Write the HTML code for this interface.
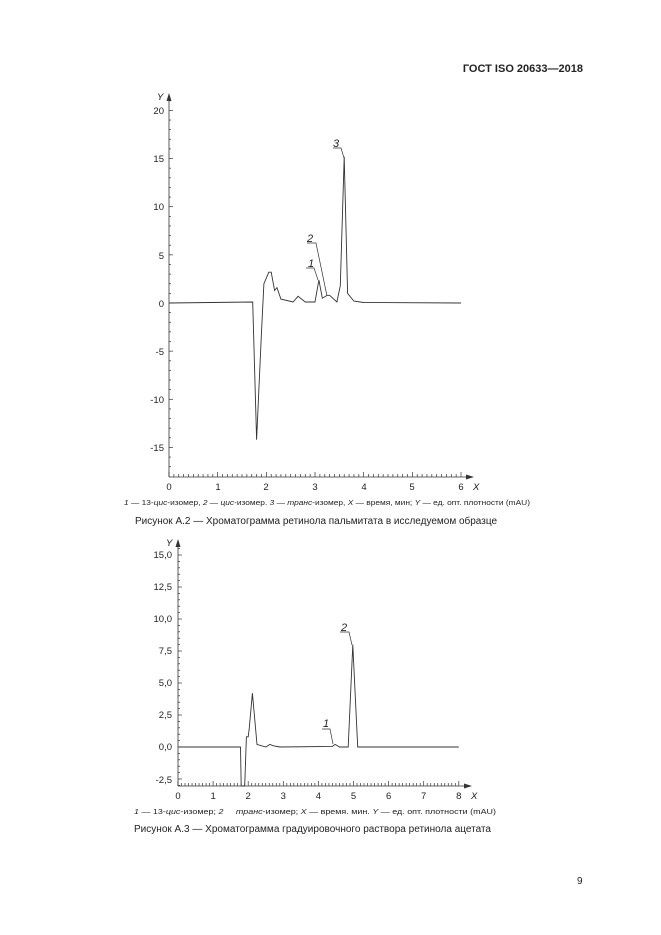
<!DOCTYPE html>
<html><head><meta charset="utf-8"><style>
body{margin:0;background:#fff;width:661px;height:935px;overflow:hidden}
svg{display:block}
text{font-family:"Liberation Sans",sans-serif;fill:#222}
</style></head><body>
<svg width="661" height="935" viewBox="0 0 661 935" xmlns="http://www.w3.org/2000/svg">
<text x="583" y="72" text-anchor="end" font-size="11" font-weight="bold" fill="#000">ГОСТ ISO 20633—2018</text>
<g stroke="#333" stroke-width="0.8" fill="none">
<line x1="169" y1="97" x2="169" y2="477"/>
<line x1="169" y1="477" x2="470" y2="477"/>
</g>
<polygon points="169,93 166.5,101 171.5,101" fill="#333"/>
<polygon points="474,477 466,474.5 466,479.5" fill="#333"/>
<g id="c1ticks" stroke="#333" stroke-width="0.7"></g>
<g font-size="9.5" text-anchor="end">
<text x="164" y="114">20</text><text x="164" y="162">15</text><text x="164" y="210">10</text>
<text x="164" y="259">5</text><text x="164" y="307">0</text><text x="164" y="355">-5</text>
<text x="164" y="403">-10</text><text x="164" y="451">-15</text>
</g>
<g font-size="9.5" text-anchor="middle">
<text x="169" y="490">0</text><text x="218" y="490">1</text><text x="266" y="490">2</text>
<text x="315" y="490">3</text><text x="364" y="490">4</text><text x="412" y="490">5</text><text x="461" y="490">6</text>
</g>
<text x="473" y="490" font-size="9.5" font-style="italic">X</text>
<text x="157" y="100" font-size="9.5" font-style="italic">Y</text>
<polyline id="p1" fill="none" stroke="#333" stroke-width="0.9"/>
<g stroke="#333" stroke-width="0.7" fill="none">
<polyline points="333,148 341,148 344,158"/>
<polyline points="307,243 316,243 327,296"/>
<polyline points="306,268 314,268 318,280"/>
</g>
<g font-size="11" font-style="italic">
<text x="333" y="147">3</text><text x="307" y="242">2</text><text x="308" y="267">1</text>
</g>
<text x="124" y="505" font-size="7.3" textLength="406" lengthAdjust="spacingAndGlyphs"><tspan font-style="italic">1</tspan> — 13-<tspan font-style="italic">цис</tspan>-изомер, <tspan font-style="italic">2</tspan> — <tspan font-style="italic">цис</tspan>-изомер. <tspan font-style="italic">3</tspan> — <tspan font-style="italic">транс</tspan>-изомер, <tspan font-style="italic">X</tspan> — время, мин; <tspan font-style="italic">Y</tspan> — ед. опт. плотности (mAU)</text>
<text x="135" y="524" font-size="9.8" textLength="362" lengthAdjust="spacingAndGlyphs">Рисунок А.2 — Хроматограмма ретинола пальмитата в исследуемом образце</text>
<g stroke="#333" stroke-width="0.8" fill="none">
<line x1="178" y1="543" x2="178" y2="786"/>
<line x1="178" y1="786" x2="468" y2="786"/>
</g>
<polygon points="178,539 175.5,547 180.5,547" fill="#333"/>
<polygon points="472,786 464,783.5 464,788.5" fill="#333"/>
<g id="c2ticks" stroke="#333" stroke-width="0.7"></g>
<g font-size="9.5" text-anchor="end">
<text x="172" y="558">15,0</text><text x="172" y="590">12,5</text><text x="172" y="622">10,0</text>
<text x="172" y="654">7,5</text><text x="172" y="686">5,0</text><text x="172" y="718">2,5</text>
<text x="172" y="750">0,0</text><text x="172" y="783">-2,5</text>
</g>
<g font-size="9.5" text-anchor="middle" id="x2lab"></g>
<text x="471" y="799" font-size="9.5" font-style="italic">X</text>
<text x="166" y="546" font-size="9.5" font-style="italic">Y</text>
<polyline id="p2" fill="none" stroke="#333" stroke-width="0.9"/>
<g stroke="#333" stroke-width="0.7" fill="none">
<polyline points="340,632 349,632 352,645"/>
<polyline points="322,729 330,729 333,744"/>
</g>
<g font-size="11" font-style="italic">
<text x="341" y="631">2</text><text x="323" y="727">1</text>
</g>
<text x="134" y="814" font-size="7.6" textLength="362" lengthAdjust="spacingAndGlyphs"><tspan font-style="italic">1</tspan> — 13-<tspan font-style="italic">цис</tspan>-изомер; <tspan font-style="italic">2</tspan>&#160;&#160;&#160;&#160;&#160;<tspan font-style="italic">транс</tspan>-изомер; <tspan font-style="italic">X</tspan> — время. мин. <tspan font-style="italic">Y</tspan> — ед. опт. плотности (mAU)</text>
<text x="134" y="832" font-size="9.8" textLength="357" lengthAdjust="spacingAndGlyphs">Рисунок А.3 — Хроматограмма градуировочного раствора ретинола ацетата</text>
<text x="577" y="884" font-size="10">9</text>
</svg>
<script>
function P(pts,x0,sx,y0,sy){return pts.map(p=>(x0+p[0]*sx).toFixed(1)+','+(y0-p[1]*sy).toFixed(1)).join(' ');}
var d1=[[0,0],[1.72,0.1],[1.8,-14.2],[1.9,-3],[1.95,2],[2.05,3.2],[2.1,3.2],[2.17,1.3],[2.22,1.6],[2.3,0.4],[2.55,0.1],[2.65,0.7],[2.8,0.1],[3.0,0.1],[3.08,2.4],[3.15,0.5],[3.25,0.8],[3.3,0.8],[3.45,0.1],[3.52,1.8],[3.6,15.2],[3.67,1],[3.8,0.2],[4,0.05],[6,0]];
document.getElementById('p1').setAttribute('points',P(d1,169,48.67,303,9.63));
var d2=[[0,0],[1.78,0],[1.8,-3.05],[1.9,-3.05],[1.95,0.8],[2,0.8],[2.03,1.5],[2.12,4.2],[2.25,0.2],[2.5,0],[2.62,0.2],[2.7,0.1],[2.9,0],[4.4,0.05],[4.48,0.2],[4.6,0],[4.85,0],[4.98,8],[5.12,0],[8,0]];
document.getElementById('p2').setAttribute('points',P(d2,178,35.1,747,12.8));
var s='';
for(var i=0;i<=60;i++){var x=169+i*48.67/10;s+='<line x1="'+x+'" y1="477" x2="'+x+'" y2="'+(i%10?474:472)+'"/>';}
for(var v=-17;v<=21;v++){var y=303-v*9.63;if(y<100||y>477)continue;s+='<line x1="169" y1="'+y+'" x2="'+(v%5?171:173)+'" y2="'+y+'"/>';}
document.getElementById('c1ticks').innerHTML=s;
s='';
for(var i=0;i<=80;i++){var x=178+i*35.1/10;s+='<line x1="'+x+'" y1="786" x2="'+x+'" y2="'+(i%10?783:781)+'"/>';}
for(var v=-3;v<=15.5;v+=0.5){var y=747-v*12.8;if(y<545||y>786)continue;s+='<line x1="178" y1="'+y+'" x2="'+((v*2)%5?180:182)+'" y2="'+y+'"/>';}
document.getElementById('c2ticks').innerHTML=s;
s='';for(var i=0;i<=8;i++)s+='<text x="'+(178+i*35.1)+'" y="799">'+i+'</text>';
document.getElementById('x2lab').innerHTML=s;
</script>
</body></html>
